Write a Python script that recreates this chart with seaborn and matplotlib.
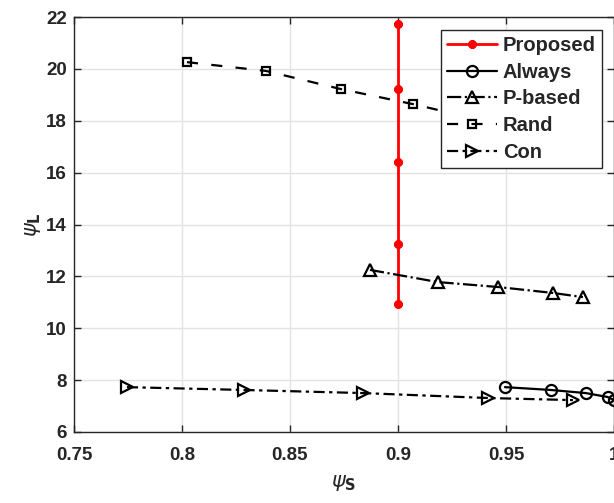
import matplotlib
matplotlib.use("Agg")
import matplotlib.pyplot as plt
import seaborn as sns
import pandas as pd

# Data
proposed_x = [0.9, 0.9, 0.9, 0.9, 0.9]
proposed_y = [10.95, 13.25, 16.4, 19.22, 21.73]

always_x = [0.9495, 0.9708, 0.987, 0.997, 1.0]
always_y = [7.73, 7.62, 7.5, 7.35, 7.23]

pbased_x = [0.887, 0.9185, 0.9463, 0.9718, 0.9856]
pbased_y = [12.25, 11.78, 11.59, 11.36, 11.2]

rand_x = [0.8023, 0.8389, 0.8736, 0.907, 0.94, 0.97]
rand_y = [20.26, 19.92, 19.22, 18.64, 18.0, 17.4]

con_x = [0.7745, 0.8287, 0.884, 0.9417, 0.981]
con_y = [7.73, 7.62, 7.5, 7.31, 7.23]

xticks = [0.75, 0.8, 0.85, 0.9, 0.95, 1.0]
xticklabels = ["0.75", "0.8", "0.85", "0.9", "0.95", "1"]
yticks = [6, 8, 10, 12, 14, 16, 18, 20, 22]

sns.set_style("whitegrid")
plt.rcParams['font.family'] = ['Liberation Sans', 'DejaVu Sans']
plt.rcParams['mathtext.fontset'] = 'dejavusans'

fig = plt.figure(figsize=(6.14, 5.03), dpi=100)
ax = fig.add_axes([74/614, 71/503, 1 - 74/614, (432-17)/503])

series = [
    ("Proposed", proposed_x, proposed_y, dict(color='red', linestyle='-', marker=(8, 2, 0), markersize=6,
                                               markerfacecolor='red', markeredgecolor='red', markeredgewidth=2.2, linewidth=2)),
    ("Always", always_x, always_y, dict(color='black', linestyle='-', marker='o', markersize=8,
                                         markerfacecolor='none', markeredgecolor='black', markeredgewidth=1.6, linewidth=1.6)),
    ("P-based", pbased_x, pbased_y, dict(color='black', linestyle='-.', marker='^', markersize=8,
                                          markerfacecolor='none', markeredgecolor='black', markeredgewidth=1.6, linewidth=1.6)),
    ("Rand", rand_x, rand_y, dict(color='black', linestyle=(0, (5, 6)), marker='s', markersize=5.5,
                                   markerfacecolor='none', markeredgecolor='black', markeredgewidth=1.6, linewidth=1.6)),
    ("Con", con_x, con_y, dict(color='black', linestyle=(0, (5, 2, 1.5, 2)), marker='>', markersize=8,
                                markerfacecolor='none', markeredgecolor='black', markeredgewidth=1.6, linewidth=1.6)),
]

for name, xs, ys, st in series:
    df = pd.DataFrame({"x": xs, "y": ys})
    ls = st.pop('linestyle')
    sns.lineplot(data=df, x="x", y="y", ax=ax, sort=False, estimator=None, label=name, **st)
    ax.lines[-1].set_linestyle(ls)

ax.set_xlim(0.75, 1.0)
ax.set_ylim(6, 22)
ax.set_xticks(xticks)
ax.set_xticklabels(xticklabels)
ax.set_yticks(yticks)
ax.grid(True, color='#e3e3e3', linewidth=1.0)
for s in ax.spines.values():
    s.set_visible(True)
    s.set_color('#262626')
    s.set_linewidth(1.0)
ax.tick_params(axis='both', direction='in', length=5, width=1, color='#262626',
               labelsize=13.5, labelcolor='#262626', top=True, right=True, bottom=True, left=True)
ax.tick_params(axis='x', pad=11)
ax.tick_params(axis='y', pad=5)
for lab in ax.get_xticklabels() + ax.get_yticklabels():
    lab.set_fontweight('bold')

ax.set_xlabel(r'$\psi_{\mathbf{S}}$', fontsize=15, color='#262626', labelpad=6)
ax.set_ylabel(r'$\psi_{\mathbf{L}}$', fontsize=15, color='#262626', labelpad=2)

leg = ax.legend(loc='upper right', bbox_to_anchor=((602 - 74) / 540, 1 - 13/415), frameon=True,
                fancybox=False, edgecolor='#262626', framealpha=1, prop={'weight': 'bold', 'size': 14.5},
                handlelength=2.5, handletextpad=0.3, labelspacing=0.38, borderpad=0.3, borderaxespad=0)
leg.get_frame().set_linewidth(1.0)

fig.savefig("out.png", dpi=100)
